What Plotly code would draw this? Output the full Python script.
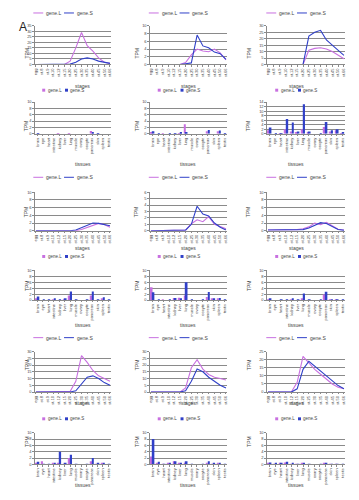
import plotly.graph_objects as go

W, H = 359, 500
OFF = 8  # default page body margin of the browser
FW, FH = W - OFF, H - OFF

stages = ["egg", "st.8", "st.9", "st.10", "st.12", "st.15", "st.20", "st.25",
          "st.30", "st.35", "st.40", "st.45", "st.50", "st.66"]
tissues = ["brain", "eye", "heart", "intestine", "kidney", "liver", "lung",
           "muscle", "ovary", "oocyte", "pancreas", "skin", "spleen", "testis"]

series_names = ["gene.L", "gene.S"]

# ---- stage expression (TPM) ----
g1c1_stage_L = [0, 0, 0, 0, 0, 0, 3, 15, 29, 17, 12, 6, 2, 1]
g1c1_stage_S = [0, 0, 0, 0, 0, 0, 0.3, 2, 5, 6, 5, 3, 2, 1]
g1c2_stage_L = [0, 0, 0, 0, 0, 0, 0.5, 2.5, 4, 3.5, 3.3, 4, 3, 1.2]
g1c2_stage_S = [0, 0, 0, 0, 0, 0, 0.2, 0.4, 7.6, 4.8, 4.3, 3.2, 2.8, 1.3]
g1c3_stage_L = [0, 0, 0, 0, 0, 0, 0, 11, 12.5, 13, 12, 10, 7.5, 4.5]
g1c3_stage_S = [0, 0, 0, 0, 0, 0, 0, 22, 25, 26.5, 19, 15, 11, 7]

g2c1_stage_L = [0, 0, 0, 0, 0, 0, 0, 0, 0.3, 0.9, 1.5, 1.9, 1.6, 0.9]
g2c1_stage_S = [0, 0, 0, 0, 0, 0, 0, 0.2, 0.8, 1.6, 2.0, 1.9, 1.6, 1.3]
g2c2_stage_L = [0, 0, 0, 0, 0, 0, 0.1, 1.1, 1.7, 1.4, 2.2, 1.0, 0.6, 0.3]
g2c2_stage_S = [0, 0, 0, 0, 0, 0, 0.1, 1.0, 3.8, 2.6, 2.3, 1.2, 0.55, 0.1]
g2c3_stage_L = [0.2, 0.2, 0.2, 0.2, 0.2, 0.3, 0.5, 1.0, 2.0, 1.6, 2.2, 1.3, 0.4, 0.2]
g2c3_stage_S = [0.2, 0.2, 0.2, 0.2, 0.2, 0.2, 0.3, 0.7, 1.5, 2.1, 1.9, 1.2, 0.3, 0.1]

g3c1_stage_L = [0, 0, 0, 0, 0, 0, 0.5, 8, 27, 22, 16, 12, 10, 8]
g3c1_stage_S = [0, 0, 0, 0, 0, 0, 0, 1, 6, 11, 12, 10, 7, 5]
g3c2_stage_L = [0, 0, 0, 0, 0, 0, 3, 18, 24, 17, 13, 11, 10, 9]
g3c2_stage_S = [0, 0, 0, 0, 0, 0, 1, 8, 17, 15, 11, 8, 5, 3]
g3c3_stage_L = [0, 0, 0, 0, 0, 6, 22, 18, 14, 11, 8, 5, 3, 2]
g3c3_stage_S = [0, 0, 0, 0, 0, 2, 14, 19, 16, 13, 10, 7, 4, 2]

# ---- tissue expression (TPM) ----
g1c1_tissue_L = [0, 0, 0, 0, 0.1, 0, 0.1, 0, 0, 0, 0.9, 0, 0, 0]
g1c1_tissue_S = [0.1, 0, 0, 0, 0, 0, 0, 0, 0, 0, 0.4, 0.1, 0, 0]
g1c2_tissue_L = [0.5, 0, 0.2, 0, 0, 0.2, 3.0, 0, 0, 0, 0.8, 0, 0.8, 0]
g1c2_tissue_S = [0.8, 0.1, 0, 0.2, 0.1, 0.3, 0.3, 0, 0, 0, 1.2, 0, 1.0, 0.1]
g1c3_tissue_L = [1.5, 0, 0.2, 2, 1, 0.5, 2, 0.5, 0, 0, 3, 1, 1.5, 0.3]
g1c3_tissue_S = [2.8, 0.2, 0.3, 6.5, 5, 1, 13, 1, 0, 0.1, 5.2, 1.5, 2, 0.5]

g2c1_tissue_L = [0.3, 0, 0, 0.2, 0, 0.2, 1.5, 0, 0, 0, 1.5, 0, 0.3, 0]
g2c1_tissue_S = [1.2, 0.1, 0.1, 0.4, 0.1, 0.5, 2.9, 0.1, 0, 0.1, 2.9, 0.1, 0.9, 0.1]
g2c2_tissue_L = [4.3, 0, 0.2, 0, 0.7, 0.8, 1.5, 0, 0, 0, 1.0, 0.3, 0.5, 0]
g2c2_tissue_S = [2.6, 0.1, 0, 0.2, 0.7, 0.5, 6.0, 0.1, 0, 0.1, 2.7, 0.5, 0.7, 0.1]
g2c3_tissue_L = [0.2, 0, 0, 0, 0.2, 0, 0.3, 0, 0, 0, 1.9, 0.1, 0.1, 0]
g2c3_tissue_S = [0.3, 0, 0.1, 0.1, 0.4, 0.1, 2.2, 0.2, 0, 0.1, 2.8, 0.2, 0.2, 0.1]

g3c1_tissue_L = [0.5, 1.0, 0, 0.3, 0.5, 0.2, 2.0, 0, 0, 0, 1.0, 0.2, 0.3, 0]
g3c1_tissue_S = [0.8, 0.2, 0.1, 0.5, 4.0, 0.3, 3.0, 0.1, 0, 0.1, 2.0, 0.3, 0.5, 0.1]
g3c2_tissue_L = [2.5, 0.5, 0.1, 0.3, 1.0, 0.3, 0.5, 0, 0, 0, 0.5, 0.2, 0.3, 0]
g3c2_tissue_S = [8.0, 0.8, 0.2, 0.5, 1.0, 0.5, 1.0, 0.1, 0, 0.1, 1.0, 0.3, 0.4, 0.1]
g3c3_tissue_L = [0.5, 0.2, 0.3, 0.6, 0.2, 0.1, 0.3, 0, 0, 0, 0.3, 0.1, 0.1, 0]
g3c3_tissue_S = [0.6, 0.3, 0.5, 0.8, 0.3, 0.2, 0.5, 0.1, 0, 0.1, 0.4, 0.2, 0.2, 0.1]

line_ranges = [[(35, 5), (10, 2), (30, 5)],
               [(10, 2), (6, 1), (10, 2)],
               [(30, 5), (30, 5), (25, 5)]]
bar_ranges = [[(10, 2), (10, 2), (14, 2)],
              [(10, 2), (10, 2), (10, 2)],
              [(10, 2), (10, 2), (10, 2)]]

stage_data = [[(g1c1_stage_L, g1c1_stage_S), (g1c2_stage_L, g1c2_stage_S), (g1c3_stage_L, g1c3_stage_S)],
              [(g2c1_stage_L, g2c1_stage_S), (g2c2_stage_L, g2c2_stage_S), (g2c3_stage_L, g2c3_stage_S)],
              [(g3c1_stage_L, g3c1_stage_S), (g3c2_stage_L, g3c2_stage_S), (g3c3_stage_L, g3c3_stage_S)]]
tissue_data = [[(g1c1_tissue_L, g1c1_tissue_S), (g1c2_tissue_L, g1c2_tissue_S), (g1c3_tissue_L, g1c3_tissue_S)],
               [(g2c1_tissue_L, g2c1_tissue_S), (g2c2_tissue_L, g2c2_tissue_S), (g2c3_tissue_L, g2c3_tissue_S)],
               [(g3c1_tissue_L, g3c1_tissue_S), (g3c2_tissue_L, g3c2_tissue_S), (g3c3_tissue_L, g3c3_tissue_S)]]

PINK = "#c870e0"
BLUE = "#3040c8"
GRID = "#8a8a8a"
TXT = "#444444"
FONT = "Liberation Sans"

cols = [(33, 110), (149, 227), (267, 346)]
line_rows = [(23, 62), (191, 230), (352, 393)]
bar_rows = [(100, 132), (270, 300), (434, 466)]
top_leg_y = [10, 176, 338]
bot_leg_y = [88, 256, 420]
stages_title_y = [79, 247, 409]
tissues_title_y = [158, 325, 492]


def px(x):
    return (x - OFF) / FW


def py(y):
    return 1 - (y - OFF) / FH


fig = go.Figure()
layout = dict(width=FW, height=FH, margin=dict(l=0, r=0, t=0, b=0),
              paper_bgcolor="white", plot_bgcolor="white", showlegend=False,
              barmode="group", bargap=0.35, bargroupgap=0.0,
              font=dict(family=FONT, size=4, color=TXT))
annotations = []
shapes = []

ax_i = 0


def add_axes(xr, yr, cats, ymax, dtick, edge):
    global ax_i
    ax_i += 1
    sfx = "" if ax_i == 1 else str(ax_i)
    xa = dict(domain=[px(xr[0]), px(xr[1])], anchor="y" + sfx,
              type="category", categoryorder="array", categoryarray=cats,
              tickangle=-90, tickfont=dict(size=4, color=TXT),
              showline=True, linecolor=GRID, linewidth=0.8,
              ticks="outside", ticklen=1.5, tickcolor=GRID,
              showgrid=False, zeroline=False, fixedrange=True)
    if edge:
        xa["range"] = [-0.2, len(cats) - 0.8]
    layout["xaxis" + sfx] = xa
    layout["yaxis" + sfx] = dict(domain=[py(yr[1]), py(yr[0])], anchor="x" + sfx,
                                 range=[0, ymax], dtick=dtick, tickfont=dict(size=4, color=TXT),
                                 showline=True, linecolor=GRID, linewidth=0.8,
                                 ticks="outside", ticklen=1.5, tickcolor=GRID,
                                 showgrid=True, gridcolor=GRID, gridwidth=0.7,
                                 zeroline=False, fixedrange=True)
    return "x" + sfx, "y" + sfx


def legend(cx, y, kind):
    colors = [PINK, BLUE]
    if kind == "line":
        starts = [cx - 40, cx - 9]
        for k in range(2):
            x0 = starts[k]
            shapes.append(dict(type="line", xref="paper", yref="paper",
                               x0=px(x0), x1=px(x0 + 10), y0=py(y), y1=py(y),
                               line=dict(color=colors[k], width=1)))
            annotations.append(dict(x=px(x0 + 11), y=py(y), xref="paper", yref="paper",
                                    text=series_names[k], showarrow=False, xanchor="left",
                                    yanchor="middle", font=dict(size=5, color=TXT)))
    else:
        starts = [cx - 31, cx - 8]
        for k in range(2):
            x0 = starts[k]
            shapes.append(dict(type="rect", xref="paper", yref="paper",
                               x0=px(x0), x1=px(x0 + 3), y0=py(y - 1.5), y1=py(y + 1.5),
                               fillcolor=colors[k], line=dict(width=0)))
            annotations.append(dict(x=px(x0 + 3.5), y=py(y), xref="paper", yref="paper",
                                    text=series_names[k], showarrow=False, xanchor="left",
                                    yanchor="middle", font=dict(size=4.5, color=TXT)))


for g in range(3):
    for c in range(3):
        xr = cols[c]
        cx = (xr[0] + xr[1]) / 2
        # line chart (stages)
        ymax, dt = line_ranges[g][c]
        xa, ya = add_axes(xr, line_rows[g], stages, ymax, dt, True)
        L, S = stage_data[g][c]
        for vals, col, nm in ((L, PINK, series_names[0]), (S, BLUE, series_names[1])):
            fig.add_trace(go.Scatter(x=stages, y=vals, mode="lines", name=nm,
                                     line=dict(color=col, width=1.1), xaxis=xa, yaxis=ya,
                                     cliponaxis=False))
        legend(cx, top_leg_y[g], "line")
        legend(cx, bot_leg_y[g], "bar")
        annotations.append(dict(x=px(xr[0] - 13), y=py(sum(line_rows[g]) / 2), xref="paper",
                                yref="paper", text="TPM", textangle=-90, showarrow=False,
                                font=dict(size=5, color=TXT)))
        annotations.append(dict(x=px(cx), y=py(stages_title_y[g]), xref="paper", yref="paper",
                                text="stages", showarrow=False, font=dict(size=5, color=TXT)))
        # bar chart (tissues)
        ymax, dt = bar_ranges[g][c]
        xa, ya = add_axes(xr, bar_rows[g], tissues, ymax, dt, False)
        L, S = tissue_data[g][c]
        for vals, col, nm in ((L, PINK, series_names[0]), (S, BLUE, series_names[1])):
            fig.add_trace(go.Bar(x=tissues, y=vals, name=nm, marker=dict(color=col, line=dict(width=0)),
                                 xaxis=xa, yaxis=ya))
        annotations.append(dict(x=px(xr[0] - 13), y=py(sum(bar_rows[g]) / 2), xref="paper",
                                yref="paper", text="TPM", textangle=-90, showarrow=False,
                                font=dict(size=5, color=TXT)))
        annotations.append(dict(x=px(cx), y=py(tissues_title_y[g]), xref="paper", yref="paper",
                                text="tissues", showarrow=False, font=dict(size=5, color=TXT)))

annotations.append(dict(x=px(15), y=py(15), xref="paper", yref="paper", text="A",
                        showarrow=False, font=dict(size=12, color="#222222")))
layout["annotations"] = annotations
layout["shapes"] = shapes
fig.update_layout(**layout)
fig.write_html("out.html")
